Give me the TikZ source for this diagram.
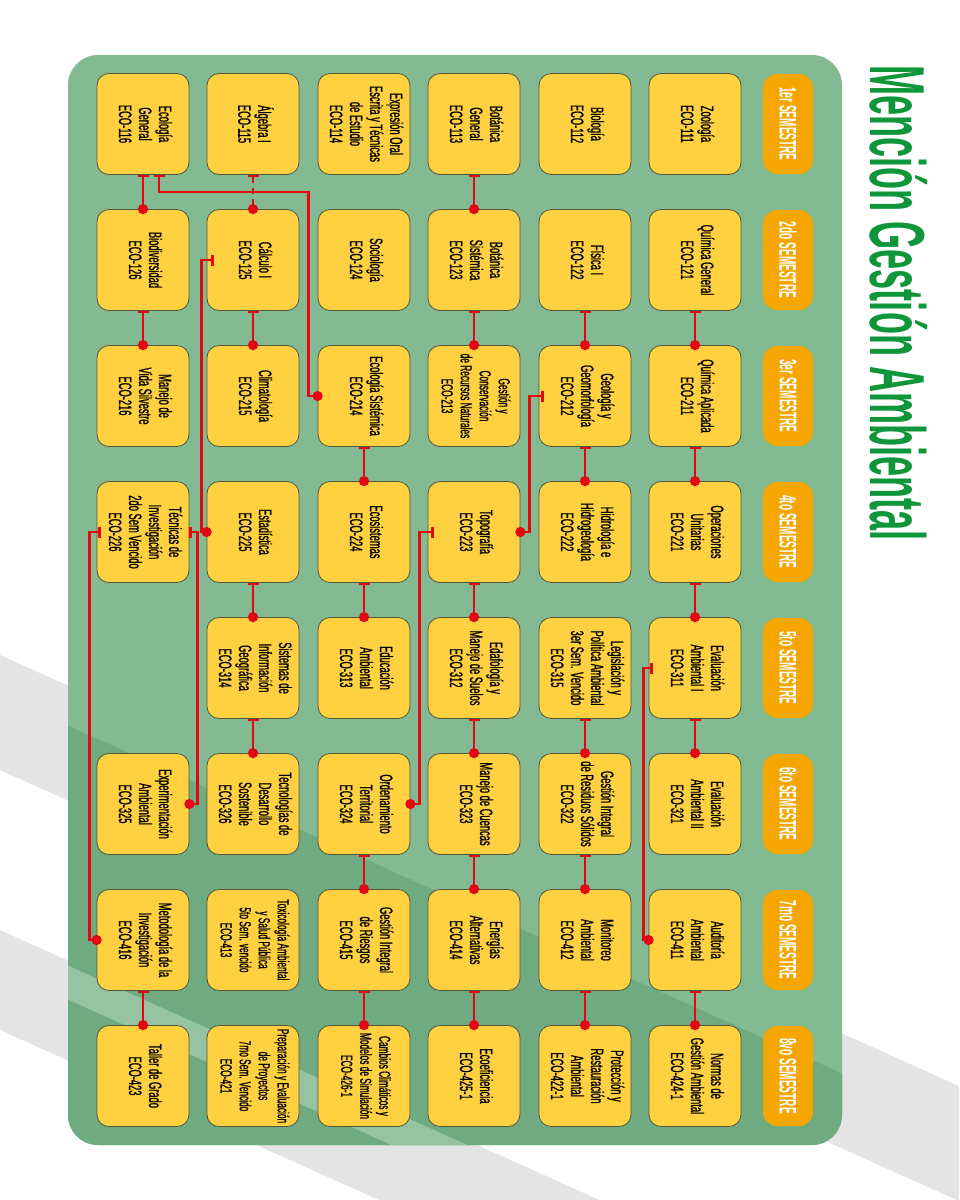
\documentclass[tikz,border=0pt]{standalone}
\usepackage{fontspec}
\setmainfont{Liberation Sans}
\newfontfamily\cf[FakeStretch=0.52,FakeBold=0.8]{Liberation Sans}
\newfontfamily\semf[FakeStretch=0.42]{Liberation Sans}
\newfontfamily\titf[FakeStretch=0.463]{Liberation Sans}
\usetikzlibrary{arrows.meta}
\definecolor{panel}{RGB}{132,186,146}
\definecolor{paneldark}{RGB}{112,170,128}
\definecolor{boxfill}{RGB}{255,208,64}
\definecolor{boxdraw}{RGB}{85,85,60}
\definecolor{semfill}{RGB}{245,166,0}
\definecolor{conn}{RGB}{227,6,19}
\definecolor{titlegreen}{RGB}{16,150,58}
\definecolor{band}{RGB}{228,228,228}
\newcommand\crs[1]{\rotatebox{-90}{\begin{tabular}{@{}c@{}}#1\end{tabular}}}
\renewcommand\arraystretch{1}
\tikzset{
  course/.style={draw=boxdraw, fill=boxfill, rounded corners=12pt, minimum width=92pt,
    minimum height=101pt, inner sep=0pt, line width=0.8pt,
    font=\cf\fontsize{18}{20}\selectfont},
  small/.style={font=\cf\fontsize{16}{19}\selectfont},
  sem/.style={fill=semfill, rounded corners=14pt, minimum width=50pt, minimum height=100pt,
    inner sep=0pt, text=white, font=\semf\bfseries\fontsize{24}{24}\selectfont},
  pre/.style={draw=conn, line width=2.6pt,
    {Bar[width=11pt,line width=2.2pt]}-{Circle[length=10pt]}, shorten >=-5pt},
}
\begin{document}
\begin{tikzpicture}[x=1pt,y=-1pt]
\useasboundingbox (0,0) rectangle (959,1200);
\fill[white] (0,0) rectangle (959,1200);
% decorative bands
\fill[band] (0,655) -- (959,1086) -- (959,1201) -- (0,770) -- cycle;
\fill[band] (0,930) -- (959,1362) -- (959,1460) -- (0,1030) -- cycle;
% panel
\fill[panel, rounded corners=30pt] (68,55) rectangle (842,1145);
\begin{scope}
\clip[rounded corners=30pt] (68,55) rectangle (842,1145);
\fill[paneldark] (0,695) -- (959,1126) -- (959,1300) -- (0,1300) -- cycle;
\fill[panel!85!white] (0,935) -- (959,1366) -- (959,1400) -- (0,969) -- cycle;
\end{scope}
% title
\node[anchor=base west, rotate=-90, inner sep=0pt, text=titlegreen,
  font=\titf\bfseries\fontsize{78}{78}\selectfont] (title) at (870,65) {Mención Gestión Ambiental};
% semester headers
\node[sem] (s1) at (788,124) {\rotatebox{-90}{1er SEMESTRE}};
\node[sem] (s2) at (788,260) {\rotatebox{-90}{2do SEMESTRE}};
\node[sem] (s3) at (788,396) {\rotatebox{-90}{3er SEMESTRE}};
\node[sem] (s4) at (788,532) {\rotatebox{-90}{4to SEMESTRE}};
\node[sem] (s5) at (788,668) {\rotatebox{-90}{5to SEMESTRE}};
\node[sem] (s6) at (788,804) {\rotatebox{-90}{6to SEMESTRE}};
\node[sem] (s7) at (788,940) {\rotatebox{-90}{7mo SEMESTRE}};
\node[sem] (s8) at (788,1076) {\rotatebox{-90}{8vo SEMESTRE}};
% row 1
\node[course] (e111) at (695,124) {\crs{Zoología\\ECO-111}};
\node[course] (e112) at (585,124) {\crs{Biología\\ECO-112}};
\node[course] (e113) at (474,124) {\crs{Botánica\\General\\ECO-113}};
\node[course] (e114) at (364,124) {\crs{Expresión Oral\\Escrita y Técnicas\\de Estudio\\ECO-114}};
\node[course] (e115) at (253,124) {\crs{Álgebra I\\ECO-115}};
\node[course] (e116) at (143,124) {\crs{Ecología\\General\\ECO-116}};
% row 2
\node[course] (e121) at (695,260) {\crs{Química General\\ECO-121}};
\node[course] (e122) at (585,260) {\crs{Física I\\ECO-122}};
\node[course] (e123) at (474,260) {\crs{Botánica\\Sistémica\\ECO-123}};
\node[course] (e124) at (364,260) {\crs{Sociología\\ECO-124}};
\node[course] (e125) at (253,260) {\crs{Cálculo I\\ECO-125}};
\node[course] (e126) at (143,260) {\crs{Biodiversidad\\ECO-126}};
% row 3
\node[course] (e211) at (695,396) {\crs{Química Aplicada\\ECO-211}};
\node[course] (e212) at (585,396) {\crs{Geología y\\Geomorfología\\ECO-212}};
\node[course, small] (e213) at (474,396) {\crs{Gestión y\\Conservación\\de Recursos Naturales\\ECO-213}};
\node[course] (e214) at (364,396) {\crs{Ecología Sistémica\\ECO-214}};
\node[course] (e215) at (253,396) {\crs{Climatología\\ECO-215}};
\node[course] (e216) at (143,396) {\crs{Manejo de\\Vida Silvestre\\ECO-216}};
% row 4
\node[course] (e221) at (695,532) {\crs{Operaciones\\Unitarias\\ECO-221}};
\node[course] (e222) at (585,532) {\crs{Hidrología e\\Hidrogeología\\ECO-222}};
\node[course] (e223) at (474,532) {\crs{Topografía\\ECO-223}};
\node[course] (e224) at (364,532) {\crs{Ecosistemas\\ECO-224}};
\node[course] (e225) at (253,532) {\crs{Estadística\\ECO-225}};
\node[course] (e226) at (143,532) {\crs{Técnicas de\\Investigación\\2do Sem Vencido\\ECO-226}};
% row 5
\node[course] (e311) at (695,668) {\crs{Evaluación\\Ambiental I\\ECO-311}};
\node[course] (e315) at (585,668) {\crs{Legislación y\\Política Ambiental\\3er Sem. Vencido\\ECO-315}};
\node[course] (e312) at (474,668) {\crs{Edafología y\\Manejo de Suelos\\ECO-312}};
\node[course] (e313) at (364,668) {\crs{Educación\\Ambiental\\ECO-313}};
\node[course] (e314) at (253,668) {\crs{Sistemas de\\Información\\Geográfica\\ECO-314}};
% row 6
\node[course] (e321) at (695,804) {\crs{Evaluación\\Ambiental II\\ECO-321}};
\node[course] (e322) at (585,804) {\crs{Gestión Integral\\de Residuos Sólidos\\ECO-322}};
\node[course] (e323) at (474,804) {\crs{Manejo de Cuencas\\ECO-323}};
\node[course] (e324) at (364,804) {\crs{Ordenamiento\\Territorial\\ECO-324}};
\node[course] (e326) at (253,804) {\crs{Tecnologías de\\Desarrollo\\Sostenible\\ECO-326}};
\node[course] (e325) at (143,804) {\crs{Experimentación\\Ambiental\\ECO-325}};
% row 7
\node[course] (e411) at (695,940) {\crs{Auditoría\\Ambiental\\ECO-411}};
\node[course] (e412) at (585,940) {\crs{Monitoreo\\Ambiental\\ECO-412}};
\node[course] (e414) at (474,940) {\crs{Energías\\Alternativas\\ECO-414}};
\node[course] (e415) at (364,940) {\crs{Gestión Integral\\de Riesgos\\ECO-415}};
\node[course, small] (e413) at (253,940) {\crs{Toxicología Ambiental\\y Salud Pública\\5to Sem. vencido\\ECO-413}};
\node[course] (e416) at (143,940) {\crs{Metodología de la\\Investigación\\ECO-416}};
% row 8
\node[course] (e4241) at (695,1076) {\crs{Normas de\\Gestión Ambiental\\ECO-424-1}};
\node[course] (e4221) at (585,1076) {\crs{Protección y\\Restauración\\Ambiental\\ECO-422-1}};
\node[course] (e4251) at (474,1076) {\crs{Ecoeficiencia\\ECO-425-1}};
\node[course, small] (e4261) at (364,1076) {\crs{Cambios Climáticos y\\Modelos de Simulación\\ECO-426-1}};
\node[course, small] (e421) at (253,1076) {\crs{Preparación y Evaluación\\de Proyectos\\7mo Sem. Vencido\\ECO-421}};
\node[course] (e423) at (143,1076) {\crs{Taller de Grado\\ECO-423}};
% vertical connectors
\draw[pre] (e121.south) -- (e211.north);
\draw[pre] (e211.south) -- (e221.north);
\draw[pre] (e221.south) -- (e311.north);
\draw[pre] (e311.south) -- (e321.north);
\draw[pre] (e411.south) -- (e4241.north);
\draw[pre] (e122.south) -- (e212.north);
\draw[pre] (e212.south) -- (e222.north);
\draw[pre] (e315.south) -- (e322.north);
\draw[pre] (e322.south) -- (e412.north);
\draw[pre] (e412.south) -- (e4221.north);
\draw[pre] (e113.south) -- (e123.north);
\draw[pre] (e123.south) -- (e213.north);
\draw[pre] (e223.south) -- (e312.north);
\draw[pre] (e312.south) -- (e323.north);
\draw[pre] (e323.south) -- (e414.north);
\draw[pre] (e414.south) -- (e4251.north);
\draw[pre] (e214.south) -- (e224.north);
\draw[pre] (e224.south) -- (e313.north);
\draw[pre] (e324.south) -- (e415.north);
\draw[pre] (e415.south) -- (e4261.north);
\draw[pre, dash pattern=on 6pt off 5pt] (e115.south) -- (e125.north);
\draw[pre] (e125.south) -- (e215.north);
\draw[pre] (e225.south) -- (e314.north);
\draw[pre] (e314.south) -- (e326.north);
\draw[pre] (e116.south) -- (e126.north);
\draw[pre] (e126.south) -- (e216.north);
\draw[pre] (e416.south) -- (e423.north);
% routed connectors
\draw[pre] ([xshift=4pt]e311.west) -- ++(-9,0) |- (e411.west);
\draw[pre] ([xshift=5pt]e212.west) -- ++(-14,0) |- (e223.east);
\draw[pre] ([xshift=6pt]e223.west) -- ++(-14,0) |- (e324.east);
\draw[pre] ([xshift=16pt]e116.south) -- ++(0,17) -| ([xshift=-9pt]e214.west) -- (e214.west);
\draw[pre] ([xshift=7pt]e125.west) -- ++(-12,0) |- (e225.west);
\draw[pre] (e226.east) -- ++(8,0) |- (e325.east);
\draw[pre] ([xshift=4pt]e226.west) -- ++(-11,0) |- (e416.west);
\end{tikzpicture}
\end{document}
